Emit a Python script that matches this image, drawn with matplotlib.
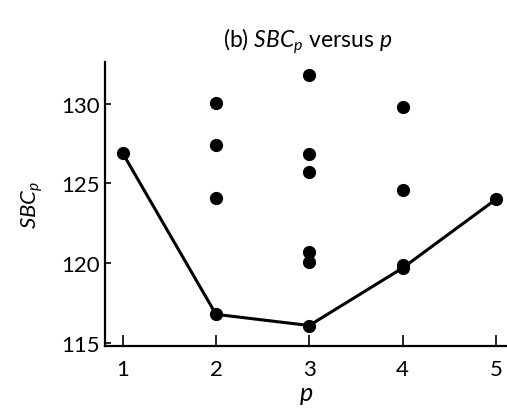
import matplotlib
matplotlib.use("Agg")
import matplotlib.pyplot as plt

plt.rcParams['font.family'] = ['Lato', 'DejaVu Sans']
plt.rcParams['mathtext.fontset'] = 'custom'
plt.rcParams['mathtext.rm'] = 'Lato'
plt.rcParams['mathtext.it'] = 'Lato:italic'

# best model per p (line)
p_best = [1, 2, 3, 4, 5]
sbc_best = [126.9, 116.8, 116.1, 119.7, 124.0]
# other models (scatter)
p_other = [2, 2, 2, 3, 3, 3, 3, 3, 4, 4, 4]
sbc_other = [130.05, 127.4, 124.1, 131.8, 126.85, 125.7, 120.7, 120.1, 129.8, 124.6, 119.9]

xticks = [1, 2, 3, 4, 5]
yticks = [115, 120, 125, 130]

fig = plt.figure(figsize=(5.07, 4.10), dpi=100)
ax = fig.add_axes([0.207, 0.153, 0.793, 0.693])

ax.plot(p_best, sbc_best, color='black', lw=2.2, marker='o', ms=8.5, zorder=3)
ax.plot(p_other, sbc_other, ls='none', color='black', marker='o', ms=8.5, zorder=3)

ax.set_xlim(0.81, 5.12)
ax.set_ylim(114.8, 132.6)
ax.set_xticks(xticks)
ax.set_yticks(yticks)
ax.spines['top'].set_visible(False)
ax.spines['right'].set_visible(False)
ax.spines['left'].set_linewidth(1.6)
ax.spines['bottom'].set_linewidth(1.6)
ax.tick_params(axis='x', direction='in', length=8, width=1.2, labelsize=16, pad=9)
ax.tick_params(axis='y', direction='in', length=4, width=1.2, labelsize=16, pad=4)

ax.set_xlabel(r'$p$', fontsize=18, labelpad=3)
ax.set_ylabel(r'$SBC_p$', fontsize=16, labelpad=11)
fig.text(0.607, 0.9, r'(b) $SBC_p$ versus $p$', ha='center', va='center', fontsize=16.5)

fig.savefig('out.png', dpi=100)
